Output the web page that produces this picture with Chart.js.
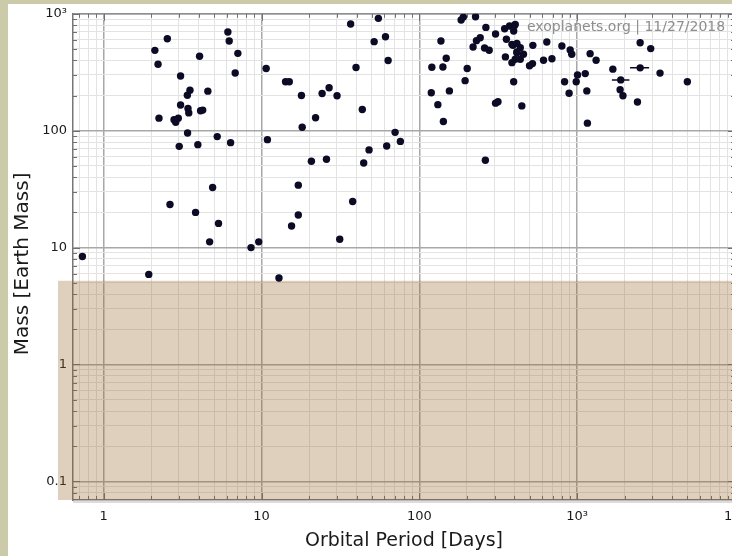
<!DOCTYPE html>
<html>
<head>
<meta charset="utf-8">
<script src="https://cdn.jsdelivr.net/npm/chart.js@4.4.1/dist/chart.umd.min.js"></script>
<style>
    html, body { margin: 0; padding: 0; width: 732px; height: 556px; overflow: hidden; background: #cbcaa9; }
    #panel { position: absolute; left: 8px; top: 4px; width: 724px; height: 552px; background: #fff; }
    #wrap { position: absolute; left: 0; top: 0; width: 780px; height: 556px; }
    #mark { position: absolute; left: 527px; top: 18px; font: 14px "DejaVu Sans"; color: #8e8e8e; white-space: nowrap; }
</style>
</head>
<body>
<div id="panel"></div>
<div id="wrap"><canvas id="chart"></canvas></div>
<div id="mark">exoplanets.org | 11/27/2018</div>
<script>
// orbital period [days] and mass [earth mass]
const periods = [
    0.733, 1.93, 2.11, 2.53, 2.21, 3.07, 4.05, 3.52, 3.39, 4.57,
    3.07, 3.42, 3.46, 4.11, 4.24, 2.24, 2.79, 2.97, 2.86, 3.40,
    3.01, 3.95, 5.24, 6.37, 6.12, 6.24, 7.08, 6.81, 4.9, 2.63,
    3.82, 5.34, 4.69, 8.58, 9.6,
    10.7, 14.2, 15.0, 17.9, 24.2, 26.8, 30.1, 22, 18.1, 10.9,
    20.7, 25.8, 17.1, 17.1, 15.5, 31.3, 12.9, 36.7, 55, 51.7,
    61, 63.4, 39.7, 43.5, 70.2, 75.8, 62.1, 48, 44.4, 37.8,
    184, 190, 227, 264, 304, 243, 230, 219, 259, 277,
    137, 148, 120, 141, 201, 195, 119, 155, 131, 142,
    304, 315, 347, 373, 401, 356, 386, 415, 351, 386,
    396, 415, 405, 396, 392, 436, 415, 457, 405, 436,
    524, 642, 521, 499, 612, 692, 800, 903, 924, 1208,
    1318, 446, 832, 1005, 1125, 986, 889, 1151, 1161, 2506,
    2924, 1683, 2506, 3350, 1888, 1871, 1950, 2410, 4990, 262
];
const masses = [
    8.4, 5.9, 487, 612, 370, 294, 433, 222, 201, 218,
    166, 155, 142, 148, 150, 128, 124, 128, 118, 95.6,
    73.5, 76, 89, 79, 698, 585, 459, 312, 32.7, 23.4,
    20, 16.1, 11.2, 10.0, 11.2,
    340, 262, 262, 200, 208, 233, 199, 129, 107, 83.8,
    54.7, 56.9, 34.2, 19, 15.3, 11.8, 5.5, 817, 914, 578,
    637, 398, 347, 152, 96.8, 81, 74, 68.5, 53, 24.8,
    884, 937, 943, 765, 671, 624, 589, 520, 510, 488,
    585, 417, 349, 351, 340, 268, 211, 219, 167, 120,
    172, 177, 745, 786, 796, 605, 548, 559, 428, 382,
    262, 465, 812, 712, 537, 513, 471, 451, 409, 409,
    537, 574, 375, 359, 401, 413, 530, 490, 451, 456,
    401, 163, 262, 300, 308, 262, 209, 219, 116, 566,
    504, 336, 345, 311, 272, 224, 199, 176, 262, 55.8
];

// horizontal error bars
const errPeriods = [1888, 2506];
const errMasses = [272, 345];
const errLow = [1659, 2163];
const errHigh = [2143, 2856];

// shaded band below this mass
const shadeMass = 5.2;

const xMajor = [1, 10, 100, 1000, 10000];
const xLabels = ["1", "10", "100", "10³", "10⁴"];
const yMajor = [0.1, 1, 10, 100, 1000];
const yLabels = ["0.1", "1", "10", "100", "10³"];
const yTitle = "Mass [Earth Mass]";

const xMin = 0.639, xMax = 10000;
const yMin = 0.0693, yMax = 1000;

function logTicks(majors, min, max) {
    let ticks = [];
    [majors[0] / 10].concat(majors).forEach(m => {
        for (let k = 1; k < 10; k++) {
            let v = +(m * k).toPrecision(6);
            if (v >= min && v <= max) ticks.push({ value: v, major: k === 1 });
        }
    });
    return ticks;
}

function labelFor(majors, labels) {
    return value => {
        let i = majors.findIndex(m => Math.abs(m - value) < m * 1e-6);
        return i >= 0 ? labels[i] : "";
    };
}

const gridColor = c => (c.tick && c.tick.major ? "#a8a8a8" : "#e3e3e3");
const gridWidth = c => (c.tick && c.tick.major ? 1.5 : 1);

const framePlugin = {
    id: "frame",
    beforeDatasetsDraw(chart) {
        const { ctx, chartArea: a, scales: { x, y } } = chart;
        ctx.save();

        // top / right frame and inward ticks
        ctx.strokeStyle = "#8f8f8f";
        ctx.lineWidth = 1.5;
        ctx.beginPath();
        ctx.moveTo(a.left, a.top);
        ctx.lineTo(a.right, a.top);
        ctx.lineTo(a.right, a.bottom);
        ctx.stroke();

        ctx.strokeStyle = "#707070";
        ctx.lineWidth = 1;
        ctx.beginPath();
        x.ticks.forEach(t => {
            let px = Math.round(x.getPixelForValue(t.value)) + 0.5;
            let len = t.major ? 7 : 4;
            ctx.moveTo(px, a.bottom); ctx.lineTo(px, a.bottom - len);
            ctx.moveTo(px, a.top); ctx.lineTo(px, a.top + len);
        });
        y.ticks.forEach(t => {
            let py = Math.round(y.getPixelForValue(t.value)) + 0.5;
            let len = t.major ? 7 : 4;
            ctx.moveTo(a.left, py); ctx.lineTo(a.left + len, py);
            ctx.moveTo(a.right, py); ctx.lineTo(a.right - len, py);
        });
        ctx.stroke();

        // soft shadow under the x axis
        ctx.strokeStyle = "#dcdcdc";
        ctx.lineWidth = 2;
        ctx.beginPath();
        ctx.moveTo(a.left, a.bottom + 2);
        ctx.lineTo(a.right, a.bottom + 2);
        ctx.stroke();

        // shaded band
        let top = y.getPixelForValue(shadeMass);
        ctx.fillStyle = "rgba(150, 100, 40, 0.3)";
        ctx.fillRect(a.left - 15, top, a.right - a.left + 15, a.bottom - top);

        // error bars
        ctx.strokeStyle = "#0b0b26";
        ctx.lineWidth = 1.5;
        ctx.beginPath();
        errPeriods.forEach((p, i) => {
            let py = y.getPixelForValue(errMasses[i]);
            ctx.moveTo(x.getPixelForValue(errLow[i]), py);
            ctx.lineTo(x.getPixelForValue(errHigh[i]), py);
        });
        ctx.stroke();

        ctx.restore();
    },
    afterDraw(chart) {
        // y title, sits a bit below the plot centre in the original
        const { ctx, chartArea: a } = chart;
        ctx.save();
        ctx.translate(23, (a.top + a.bottom) / 2 + 7);
        ctx.rotate(-Math.PI / 2);
        ctx.font = "20px 'DejaVu Sans'";
        ctx.fillStyle = "#1a1a1a";
        ctx.textAlign = "center";
        ctx.textBaseline = "middle";
        ctx.fillText(yTitle, 0, 0);
        ctx.restore();
    }
};

new Chart(document.getElementById("chart"), {
    type: "scatter",
    data: {
        datasets: [{
            data: periods.map((p, i) => ({ x: p, y: masses[i] })),
            backgroundColor: "#0b0b26",
            borderColor: "#0b0b26",
            borderWidth: 0,
            pointRadius: 3.7,
        }]
    },
    options: {
        responsive: true,
        maintainAspectRatio: false,
        animation: false,
        events: [],
        layout: { padding: { top: 13, right: 45, left: 0, bottom: 0 } },
        plugins: { legend: { display: false }, tooltip: { enabled: false } },
        scales: {
            x: {
                type: "logarithmic",
                bounds: "data",
                min: xMin,
                max: xMax,
                afterBuildTicks: s => { s.ticks = logTicks(xMajor, xMin, xMax); },
                afterFit: s => { s.height = 56; },
                grid: { color: gridColor, lineWidth: gridWidth, drawTicks: false },
                border: { color: "#777", width: 1.5 },
                ticks: {
                    autoSkip: false, maxRotation: 0, padding: 9,
                    color: "#1a1a1a",
                    font: { family: "DejaVu Sans", size: 13 },
                    callback: labelFor(xMajor, xLabels)
                },
                title: {
                    display: true, text: "Orbital Period [Days]",
                    color: "#1a1a1a",
                    font: { family: "DejaVu Sans", size: 19 },
                    padding: { top: 0, bottom: 4 }
                }
            },
            y: {
                type: "logarithmic",
                bounds: "data",
                min: yMin,
                max: yMax,
                afterBuildTicks: s => { s.ticks = logTicks(yMajor, yMin, yMax); },
                afterFit: s => { s.width = 73; },
                grid: { color: gridColor, lineWidth: gridWidth, drawTicks: false },
                border: { color: "#777", width: 1.5 },
                ticks: {
                    autoSkip: false, padding: 6,
                    color: "#1a1a1a",
                    font: { family: "DejaVu Sans", size: 13 },
                    callback: labelFor(yMajor, yLabels)
                },
                title: { display: false }
            }
        }
    },
    plugins: [framePlugin]
});
</script>
</body>
</html>
